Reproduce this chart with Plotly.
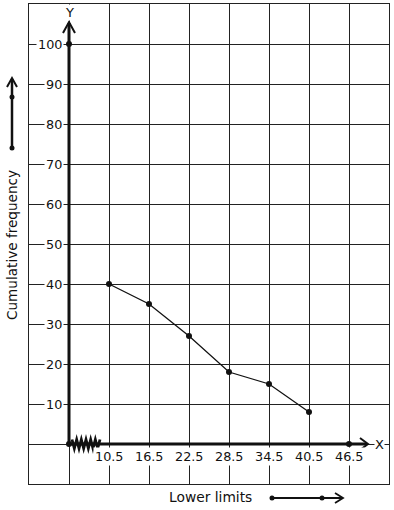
import plotly.graph_objects as go

# ---- data ----
lower_limits = [10.5, 16.5, 22.5, 28.5, 34.5, 40.5]
cum_freq = [40, 35, 27, 18, 15, 8]
x_tick_values = [10.5, 16.5, 22.5, 28.5, 34.5, 40.5, 46.5]
x_tick_labels = ["10.5", "16.5", "22.5", "28.5", "34.5", "40.5", "46.5"]
y_tick_values = [10, 20, 30, 40, 50, 60, 70, 80, 90, 100]
y_tick_labels = ["10", "20", "30", "40", "50", "60", "70", "80", "90", "100"]
axis_dot_x = [4.5, 4.5, 46.5]
axis_dot_y = [100, 0, 0]
origin_x = 4.5

X_RANGE = [-1.5, 52.5]
Y_RANGE = [-10, 110]

# ---- layout geometry (pixels) ----
WIDTH, HEIGHT = 394, 510
L, T, PW, PH = 29, 4, 360, 480
R = WIDTH - L - PW
B = HEIGHT - T - PH


def px(x):
    return (x - L) / PW


def py(y):
    return (T + PH - y) / PH


def dx(x):  # pixel -> data x
    return X_RANGE[0] + (x - L) * (X_RANGE[1] - X_RANGE[0]) / PW


def dy(y):  # pixel -> data y
    return Y_RANGE[0] + (T + PH - y) * (Y_RANGE[1] - Y_RANGE[0]) / PH


FONT = "DejaVu Sans"
INK = "#111111"

fig = go.Figure()

fig.add_trace(go.Scatter(
    x=lower_limits, y=cum_freq, mode="lines+markers",
    line=dict(color=INK, width=1.3),
    marker=dict(color=INK, size=6),
    showlegend=False, hoverinfo="skip"))

fig.add_trace(go.Scatter(
    x=axis_dot_x, y=axis_dot_y, mode="markers",
    marker=dict(color=INK, size=6),
    showlegend=False, hoverinfo="skip", cliponaxis=False))

shapes = []
# thick axes
shapes.append(dict(type="line", xref="x", yref="y", x0=origin_x, y0=0,
                   x1=origin_x, y1=dy(23), line=dict(color=INK, width=3)))
shapes.append(dict(type="line", xref="x", yref="y", x0=origin_x, y0=0,
                   x1=dx(367), y1=0, line=dict(color=INK, width=3)))
# arrow heads on axes
shapes.append(dict(type="path", xref="x", yref="y",
                   path=f"M {dx(63)} {dy(33)} L {dx(69)} {dy(22)} L {dx(75)} {dy(33)}",
                   line=dict(color=INK, width=2)))
shapes.append(dict(type="path", xref="x", yref="y",
                   path=f"M {dx(360)} {dy(438)} L {dx(368)} {dy(444)} L {dx(360)} {dy(450)}",
                   line=dict(color=INK, width=2)))
# kink (zigzag) on x axis
zz = []
n = 12
for i in range(n + 1):
    xx = 72 + i * 28 / n
    yy = 439.5 if i % 2 == 0 else 448.5
    zz.append(f"{'M' if i == 0 else 'L'} {dx(xx)} {dy(yy)}")
shapes.append(dict(type="path", xref="x", yref="y", path=" ".join(zz),
                   line=dict(color=INK, width=2.8)))

# left scale arrow (margin)
shapes.append(dict(type="line", xref="paper", yref="paper", x0=px(12), y0=py(148),
                   x1=px(12), y1=py(79), line=dict(color=INK, width=2.5)))
shapes.append(dict(type="path", xref="paper", yref="paper",
                   path=f"M {px(7)} {py(87)} L {px(12)} {py(78)} L {px(17)} {py(87)}",
                   line=dict(color=INK, width=2)))
# bottom scale arrow (margin)
shapes.append(dict(type="line", xref="paper", yref="paper", x0=px(272), y0=py(498),
                   x1=px(342), y1=py(498), line=dict(color=INK, width=2)))
shapes.append(dict(type="path", xref="paper", yref="paper",
                   path=f"M {px(335)} {py(493)} L {px(343)} {py(498)} L {px(335)} {py(503)}",
                   line=dict(color=INK, width=1.8)))
for (cx, cy) in [(12, 97), (12, 148), (272, 498), (322, 498)]:
    shapes.append(dict(type="circle", xref="paper", yref="paper",
                       x0=px(cx - 2.5), x1=px(cx + 2.5), y0=py(cy + 2.5), y1=py(cy - 2.5),
                       fillcolor=INK, line=dict(color=INK, width=0)))

annotations = []
for v, t in zip(y_tick_values, y_tick_labels):
    annotations.append(dict(x=dx(63.5), y=v, xref="x", yref="y", text=t,
                            showarrow=False, xanchor="right", yanchor="middle",
                            bgcolor="white", borderpad=1,
                            font=dict(family=FONT, size=12.8, color=INK)))
for v, t in zip(x_tick_values, x_tick_labels):
    annotations.append(dict(x=v, y=dy(456), xref="x", yref="y", text=t,
                            showarrow=False, xanchor="center", yanchor="middle",
                            bgcolor="white", borderpad=1,
                            font=dict(family=FONT, size=12.8, color=INK)))
annotations.append(dict(x=origin_x, y=dy(12), xref="x", yref="y", text="Y",
                        showarrow=False, bgcolor="white", borderpad=0,
                        font=dict(family=FONT, size=13, color=INK)))
annotations.append(dict(x=dx(379), y=0, xref="x", yref="y", text="X",
                        showarrow=False, bgcolor="white", borderpad=0,
                        font=dict(family=FONT, size=13, color=INK)))
annotations.append(dict(x=px(12), y=py(245), xref="paper", yref="paper",
                        text="Cumulative frequency", textangle=-90, showarrow=False,
                        xanchor="center", yanchor="middle",
                        font=dict(family=FONT, size=13.6, color=INK)))
annotations.append(dict(x=px(210), y=py(497), xref="paper", yref="paper",
                        text="Lower limits", showarrow=False,
                        xanchor="center", yanchor="middle",
                        font=dict(family=FONT, size=13.8, color=INK)))

grid_x = [X_RANGE[0] + 6 * k for k in range(10)]

fig.update_layout(
    width=WIDTH, height=HEIGHT,
    margin=dict(l=L, r=R, t=T, b=B, pad=0),
    paper_bgcolor="white", plot_bgcolor="white",
    shapes=shapes, annotations=annotations,
    font=dict(family=FONT, color=INK),
    xaxis=dict(range=X_RANGE, tickvals=grid_x, showticklabels=False, ticks="",
               showgrid=True, gridcolor="#222222", gridwidth=1, zeroline=False,
               showline=True, mirror=True, linecolor="#222222", linewidth=1,
               fixedrange=True),
    yaxis=dict(range=Y_RANGE, tickvals=[-10 + 10 * k for k in range(13)],
               showticklabels=False, ticks="",
               showgrid=True, gridcolor="#222222", gridwidth=1, zeroline=False,
               showline=True, mirror=True, linecolor="#222222", linewidth=1,
               fixedrange=True),
)

fig.write_html(
    "out.html",
    config={"displayModeBar": False},
    post_script="document.body.style.margin='0';document.body.style.overflow='hidden';",
)
